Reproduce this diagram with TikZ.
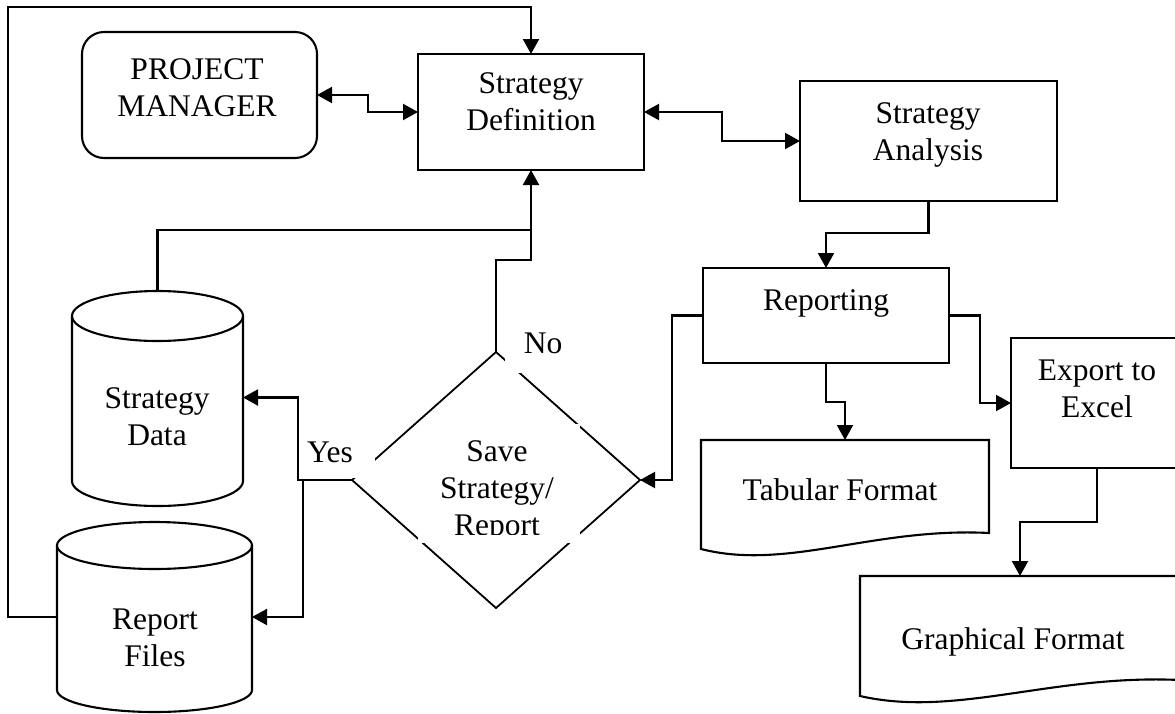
\documentclass[tikz,border=0pt]{standalone}
\usepackage{fontspec}
\setmainfont{Liberation Serif}
\usetikzlibrary{arrows.meta,shapes.geometric,calc}
\begin{document}
\begin{tikzpicture}[x=1pt,y=-1pt,
  plain/.style={line width=2.1pt},
  box/.style={draw, line width=2.1pt, rectangle, inner sep=0pt, outer sep=0pt},
  ghost/.style={rectangle, inner sep=0pt, outer sep=0pt, draw=none},
  lbl/.style={font=\fontsize{31.5}{37}\selectfont, align=center, inner sep=0pt, anchor=north},
  conn/.style={line width=2.1pt, -{Triangle[length=15pt,width=16pt]}},
  biconn/.style={line width=2.1pt, {Triangle[length=15pt,width=16pt]}-{Triangle[length=15pt,width=16pt]}}]
\clip (0,0) rectangle (1175,713);
\fill[white] (0,0) rectangle (1175,713);

% boxes
\node[box, rounded corners=22pt, minimum width=235pt, minimum height=126pt] (pm) at (199.5,95) {};
\node[box, minimum width=226pt, minimum height=116pt] (sd) at (531,112) {};
\node[box, minimum width=257pt, minimum height=120pt] (sa) at (928.5,141) {};
\node[box, minimum width=246pt, minimum height=95pt] (rep) at (826,315.5) {};
\node[box, minimum width=172pt, minimum height=130pt] (exp) at (1097,403) {};
\node[box, shape=diamond, line width=1.8pt, minimum width=288pt, minimum height=256pt] (dia) at (496,480) {};

% anchors for drawn shapes
\node[ghost, minimum width=288pt, minimum height=109pt] (tab) at (845,494.5) {};
\node[ghost, minimum width=320pt, minimum height=120pt] (gra) at (1020,636) {};
\node[ghost, minimum width=171pt, minimum height=215pt] (sdat) at (157.5,397.5) {};
\node[ghost, minimum width=195pt, minimum height=190pt] (rf) at (154.5,617) {};
\coordinate (loop) at (8,7);

% document shapes
\draw[plain] (701,549) -- (701,440) -- (989,440) -- (989,533)
  .. controls (874,527) and (787,571) .. (701,549) -- cycle;
\draw[plain] (860,696) -- (860,576) -- (1180,576) -- (1180,680)
  .. controls (1052,674) and (956,718) .. (860,696) -- cycle;

% cylinders
\draw[plain] (157.5,316) ellipse [x radius=85.5pt, y radius=25pt];
\draw[plain] (72,316) -- (72,481) arc[start angle=180, end angle=360, x radius=85.5pt, y radius=25pt] -- (243,316);
\draw[plain] (154.5,545.5) ellipse [x radius=97.5pt, y radius=23.5pt];
\draw[plain] (57,545.5) -- (57,690) arc[start angle=180, end angle=360, x radius=97.5pt, y radius=22pt] -- (252,545.5);

% connectors
\draw[biconn] (pm.east) -- ++(51,0) |- (sd.west);
\draw[biconn] (sd.east) -- ++(78,0) |- (sa.west);
\draw[conn] (sa.south) -- ++(0,32) -| (rep.north);
\draw[conn] (rep.west) -- ++(-31,0) |- (dia.east);
\draw[conn] (rep.east) -- ++(31,0) |- (exp.west);
\draw[conn] (rep.south) -- ++(0,39) -| (tab.north);
\draw[conn] (exp.south) -- ++(0,54) -| (gra.north);
\draw[conn] (dia.north) -- ++(0,-92) -| (sd.south);
\draw[plain] (sdat.north) -- ++(0,-60) -| ($(sd.south)+(0,60)$);
\draw[conn] (dia.west) -- ++(-54,0) |- (sdat.east);
\draw[conn] ($(dia.west)+(-49,0)$) |- (rf.east);
\draw[conn] (rf.west) -| (loop) -| (sd.north);

% gaps of label boxes
\fill[white] (505,318) rectangle (585,373);
\fill[white] (303,430) rectangle (375,478);
\fill[white] (418,424) rectangle (580,543);

% texts
\node[lbl] (pmT) at (197,58) {PROJECT\\MANAGER};
\node[lbl] (sdT) at (531,72) {Strategy\\Definition};
\node[lbl] (saT) at (928,102) {Strategy\\Analysis};
\node[lbl] (repT) at (826,289) {Reporting};
\node[lbl] (tabT) at (840,478) {Tabular Format};
\node[lbl] (expT) at (1097,360) {Export to\\Excel};
\node[lbl] (graT) at (1013,627) {Graphical Format};
\node[lbl] (sdatT) at (157,387) {Strategy\\Data};
\node[lbl] (rfT) at (155,609) {Report\\Files};
\begin{scope}
\clip (400,420) rectangle (600,534);
\node[lbl] (diaT) at (497,440) {Save\\Strategy/\\Report};
\end{scope}
\node[lbl] (noT) at (543,333) {No};
\node[lbl] (yesT) at (330,442) {Yes};
\end{tikzpicture}
\end{document}
